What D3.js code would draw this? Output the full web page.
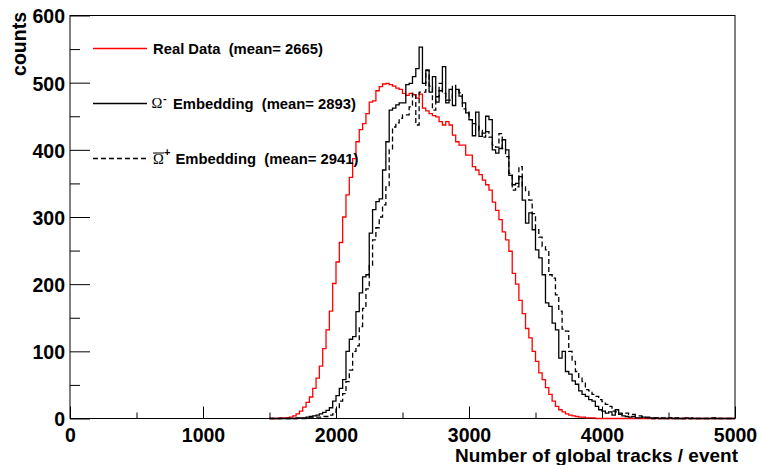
<!DOCTYPE html>
<html><head><meta charset="utf-8">
<script src="https://cdn.jsdelivr.net/npm/d3@7"></script>
<style>body{margin:0;background:#fff}svg{display:block}</style>
</head><body><svg id="c" width="758" height="465"></svg>
<script>
// ---- data: histogram bins of 25 tracks, first bin starts at 1500 ----
const binStart = 1500, binWidth = 25;
const realData = [
  0,0,0,1,1,1,2,4,7,11,
  17,24,32,45,60,78,104,132,160,201,
  233,262,300,333,359,387,412,430,439,454,
  471,473,488,494,498,499,497,495,492,490,
  484,481,484,482,477,483,462,458,454,451,
  449,442,437,442,437,422,412,407,407,392,
  392,375,370,363,355,348,340,322,310,296,
  278,266,249,216,200,176,156,134,120,100,
  85,68,58,46,36,26,18,13,10,7,
  5,4,3,2,2,1,1,1,0,0,
  0,0,0,0,0,0,0,0,0,0,
  0,0,0,0,0,0,0,0,0,0,
  0,0,0,0,0,0,0,0,0,0,
  0,0,0,0,0,0,0,0,0,0
];
const omegaMinus = [
  0,0,0,0,0,0,0,0,1,1,
  1,2,3,4,5,7,9,12,16,26,
  34,45,58,100,118,122,159,187,211,214,
  276,311,323,327,370,412,459,462,467,470,
  470,497,499,509,521,553,499,518,486,509,
  471,488,524,470,490,466,490,480,470,455,
  445,421,456,420,425,450,445,400,395,402,
  415,400,362,348,350,360,325,291,306,281,
  251,239,214,172,167,142,132,90,100,70,
  66,56,51,41,36,33,28,26,18,13,
  11,8,10,5,13,6,4,3,2,3,
  1,1,2,1,1,0,1,0,0,0,
  1,0,1,0,0,1,0,0,0,0,
  0,0,0,1,0,0,0,0,0,0
];
const omegaPlus = [
  0,0,0,0,0,0,0,0,0,0,
  0,0,1,1,2,2,3,3,5,7,
  14,26,37,55,72,100,108,137,164,193,
  228,266,284,300,318,345,400,434,440,447,
  452,452,464,484,437,486,486,519,495,459,
  479,499,484,474,474,496,489,485,461,456,
  445,439,435,429,419,427,419,407,404,424,
  402,390,365,340,345,375,345,338,325,305,
  281,270,256,251,214,209,184,160,133,130,
  100,85,70,60,55,43,41,36,33,28,
  25,21,18,11,10,8,7,8,6,6,
  4,4,3,2,2,1,1,1,1,0,
  1,0,0,1,0,0,0,1,0,0,
  0,0,0,0,1,0,0,0,0,0
];
const xMajorTicks = [0,1000,2000,3000,4000,5000];
const xMinorTicks = [500,1500,2500,3500,4500];
const yMajorTicks = [0,100,200,300,400,500,600];
const yMinorTicks = [50,150,250,350,450,550];
const xTitle = "Number of global tracks / event";
const yTitle = "counts";
const legendText = ["Real Data  (mean= 2665)", "Embedding  (mean= 2893)", "Embedding  (mean= 2941)"];
const seriesColors = ["#ff0000", "#000000", "#000000"];
const seriesDash = [null, null, "5,3"];

// ---- drawing ----
const svg = d3.select("#c");
const FONT = "'Liberation Sans', Arial, Helvetica, sans-serif";
const x = d3.scaleLinear().domain([0,5000]).range([70,735]);
const y = d3.scaleLinear().domain([0,600]).range([418.5,15.5]);

svg.append("rect").attr("width",758).attr("height",465).attr("fill","#fff");

function styleAxis(g){
  g.select(".domain").remove();
  g.selectAll("line").attr("stroke","#000").attr("stroke-width",1);
  g.selectAll("text").attr("font-family",FONT).attr("font-weight","bold").attr("font-size",19.5).attr("fill","#000");
}
// x axis
svg.append("g").attr("transform","translate(0,418.5)")
  .call(d3.axisBottom(x).tickValues(xMajorTicks).tickSize(-12).tickPadding(10).tickFormat(d3.format("d")))
  .call(styleAxis);
svg.append("g").attr("transform","translate(0,418.5)")
  .call(d3.axisBottom(x).tickValues(xMinorTicks).tickSize(-6).tickFormat(""))
  .call(styleAxis);
// y axis
const ya = svg.append("g").attr("transform","translate(70,0)")
  .call(d3.axisLeft(y).tickValues(yMajorTicks).tickSize(-20).tickPadding(5).tickFormat(d3.format("d")))
  .call(styleAxis);
ya.selectAll("text").attr("dy","0.38em");
svg.append("g").attr("transform","translate(70,0)")
  .call(d3.axisLeft(y).tickValues(yMinorTicks).tickSize(-10).tickFormat(""))
  .call(styleAxis);

// frame
svg.append("rect").attr("x",x(0)).attr("y",y(600)).attr("width",x(5000)-x(0)).attr("height",y(0)-y(600))
  .attr("fill","none").attr("stroke","#000").attr("stroke-width",1);

// histograms
const line = d3.line().x(d=>x(d[0])).y(d=>y(d[1])).curve(d3.curveStepAfter);
function histPoints(arr){
  const pts = [[binStart,0]];
  arr.forEach((c,i)=>pts.push([binStart+i*binWidth,c]));
  pts.push([binStart+arr.length*binWidth,0]);
  return pts;
}
[realData, omegaMinus, omegaPlus].forEach((arr,i)=>{
  svg.append("path").datum(histPoints(arr)).attr("d",line)
    .attr("fill","none").attr("stroke",seriesColors[i]).attr("stroke-width",1.3)
    .attr("stroke-dasharray",seriesDash[i]);
});

// axis titles
svg.append("text").attr("x",738).attr("y",462).attr("text-anchor","end")
  .attr("font-family",FONT).attr("font-weight","bold").attr("font-size",19).text(xTitle);
svg.append("text").attr("transform","translate(25.5,12) rotate(-90)").attr("text-anchor","end")
  .attr("font-family",FONT).attr("font-weight","bold").attr("font-size",19.5).text(yTitle);

// legend
const legY = [48.5,103.5,158.5];
const lg = svg.append("g");
legY.forEach((ly,i)=>{
  lg.append("line").attr("x1",93).attr("x2",147).attr("y1",ly).attr("y2",ly)
    .attr("stroke",seriesColors[i]).attr("stroke-width",1.3).attr("stroke-dasharray",seriesDash[i]);
});
function ltext(xp,yp,t,opts={}){
  return lg.append("text").attr("x",xp).attr("y",yp).style("white-space","pre")
    .attr("font-family",opts.family||FONT).attr("font-weight",opts.weight||"bold")
    .attr("font-size",opts.size||14.8).attr("fill","#000").text(t);
}
ltext(153, legY[0]+5, legendText[0]);
// Omega minus
ltext(151.5, legY[1]+4.5, "\u03A9", {family:"'Liberation Serif', 'DejaVu Serif', serif", weight:"normal", size:14.5});
ltext(163, legY[1]-2, "-", {size:11});
ltext(173, legY[1]+5, legendText[1]);
// anti-Omega plus
ltext(153, legY[2]+5.5, "\u03A9", {family:"'Liberation Serif', 'DejaVu Serif', serif", weight:"normal", size:14.5});
lg.append("line").attr("x1",153).attr("x2",164).attr("y1",legY[2]-5.5).attr("y2",legY[2]-5.5).attr("stroke","#000").attr("stroke-width",1);
ltext(164, legY[2]-2.5, "+", {size:11});
ltext(175.5, legY[2]+5, legendText[2]);
</script></body></html>
